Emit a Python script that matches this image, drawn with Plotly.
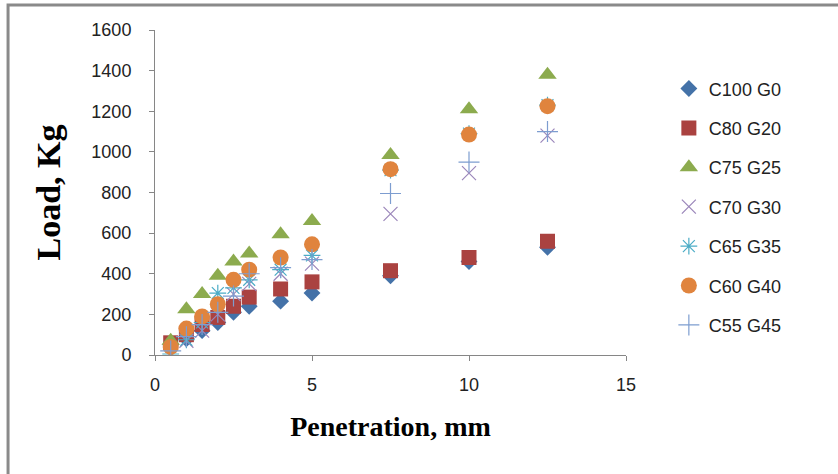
import plotly.graph_objects as go

penetration = [0.5, 1, 1.5, 2, 2.5, 3, 4, 5, 7.5, 10, 12.5]

c100_g0 = [50, 80, 120, 160, 210, 240, 265, 305, 390, 460, 530]
c80_g20 = [60, 100, 150, 185, 240, 285, 325, 360, 415, 480, 560]
c75_g25 = [70, 225, 300, 390, 460, 500, 595, 660, 985, 1210, 1380]
c70_g30 = [10, 70, 120, 200, 300, 350, 400, 450, 695, 895, 1080]
c65_g35 = [5, 75, 160, 305, 330, 370, 420, 490, 910, 1090, 1230]
c60_g40 = [40, 130, 190, 250, 370, 420, 480, 545, 915, 1085, 1225]
c55_g45 = [20, 90, 150, 210, 290, 400, 430, 470, 795, 950, 1100]

series_names = ["C100 G0", "C80 G20", "C75 G25", "C70 G30", "C65 G35", "C60 G40", "C55 G45"]
series_values = [c100_g0, c80_g20, c75_g25, c70_g30, c65_g35, c60_g40, c55_g45]

styles = [
    dict(symbol="diamond", color="#4472A8", size=13, line=dict(width=0)),
    dict(symbol="square", color="#AA4240", size=15, line=dict(width=0)),
    dict(symbol="triangle-up", color="#8CAB4E", size=16, line=dict(width=0)),
    dict(symbol="x-thin-open", color="#9B86BA", size=14, line=dict(width=1.2, color="#9B86BA")),
    dict(symbol="asterisk-open", color="#4BACC6", size=14, line=dict(width=1.2, color="#4BACC6")),
    dict(symbol="circle", color="#E0843E", size=16, line=dict(width=0)),
    dict(symbol="cross-thin-open", color="#7D9DD0", size=15, line=dict(width=1.2, color="#7D9DD0")),
]

fig = go.Figure()
for i, (name, vals, st) in enumerate(zip(series_names, series_values, styles)):
    fig.add_trace(go.Scatter(
        x=penetration, y=vals, mode="markers", name=name,
        marker=st, legendgroup=f"g{i}",
    ))

tick_font = dict(family="Liberation Sans Narrow, Liberation Sans", size=18, color="#222")
axis_common = dict(
    showgrid=False, zeroline=False, showline=True, linecolor="#868686", linewidth=1,
    ticks="outside", ticklen=5, tickcolor="#868686", tickfont=tick_font,
)

fig.update_layout(
    width=838, height=474,
    margin=dict(l=155, r=212, t=30, b=119),
    paper_bgcolor="white", plot_bgcolor="white",
    xaxis=dict(range=[0, 15], tickvals=[0, 5, 10, 15], ticklabelstandoff=8, **axis_common,
               title=dict(text="<b>Penetration, mm</b>", standoff=22,
                          font=dict(family="Liberation Serif", size=28, color="#000"))),
    yaxis=dict(range=[0, 1600], tickvals=list(range(0, 1601, 200)), ticklabelstandoff=14, **axis_common,
               title=dict(text="<b>Load, Kg</b>", standoff=20,
                          font=dict(family="Liberation Serif", size=34, color="#000"))),
    legend=dict(x=1.091, y=0.876, xanchor="left", yanchor="top",
                font=tick_font,
                traceorder="grouped", tracegroupgap=13, itemwidth=30),
    showlegend=True,
    shapes=[dict(type="rect", xref="paper", yref="paper",
                 x0=-0.312, x1=1.5, y0=-0.45, y1=1.077,
                 line=dict(color="#8a8a8a", width=3))],
)

fig.write_html("out.html")
